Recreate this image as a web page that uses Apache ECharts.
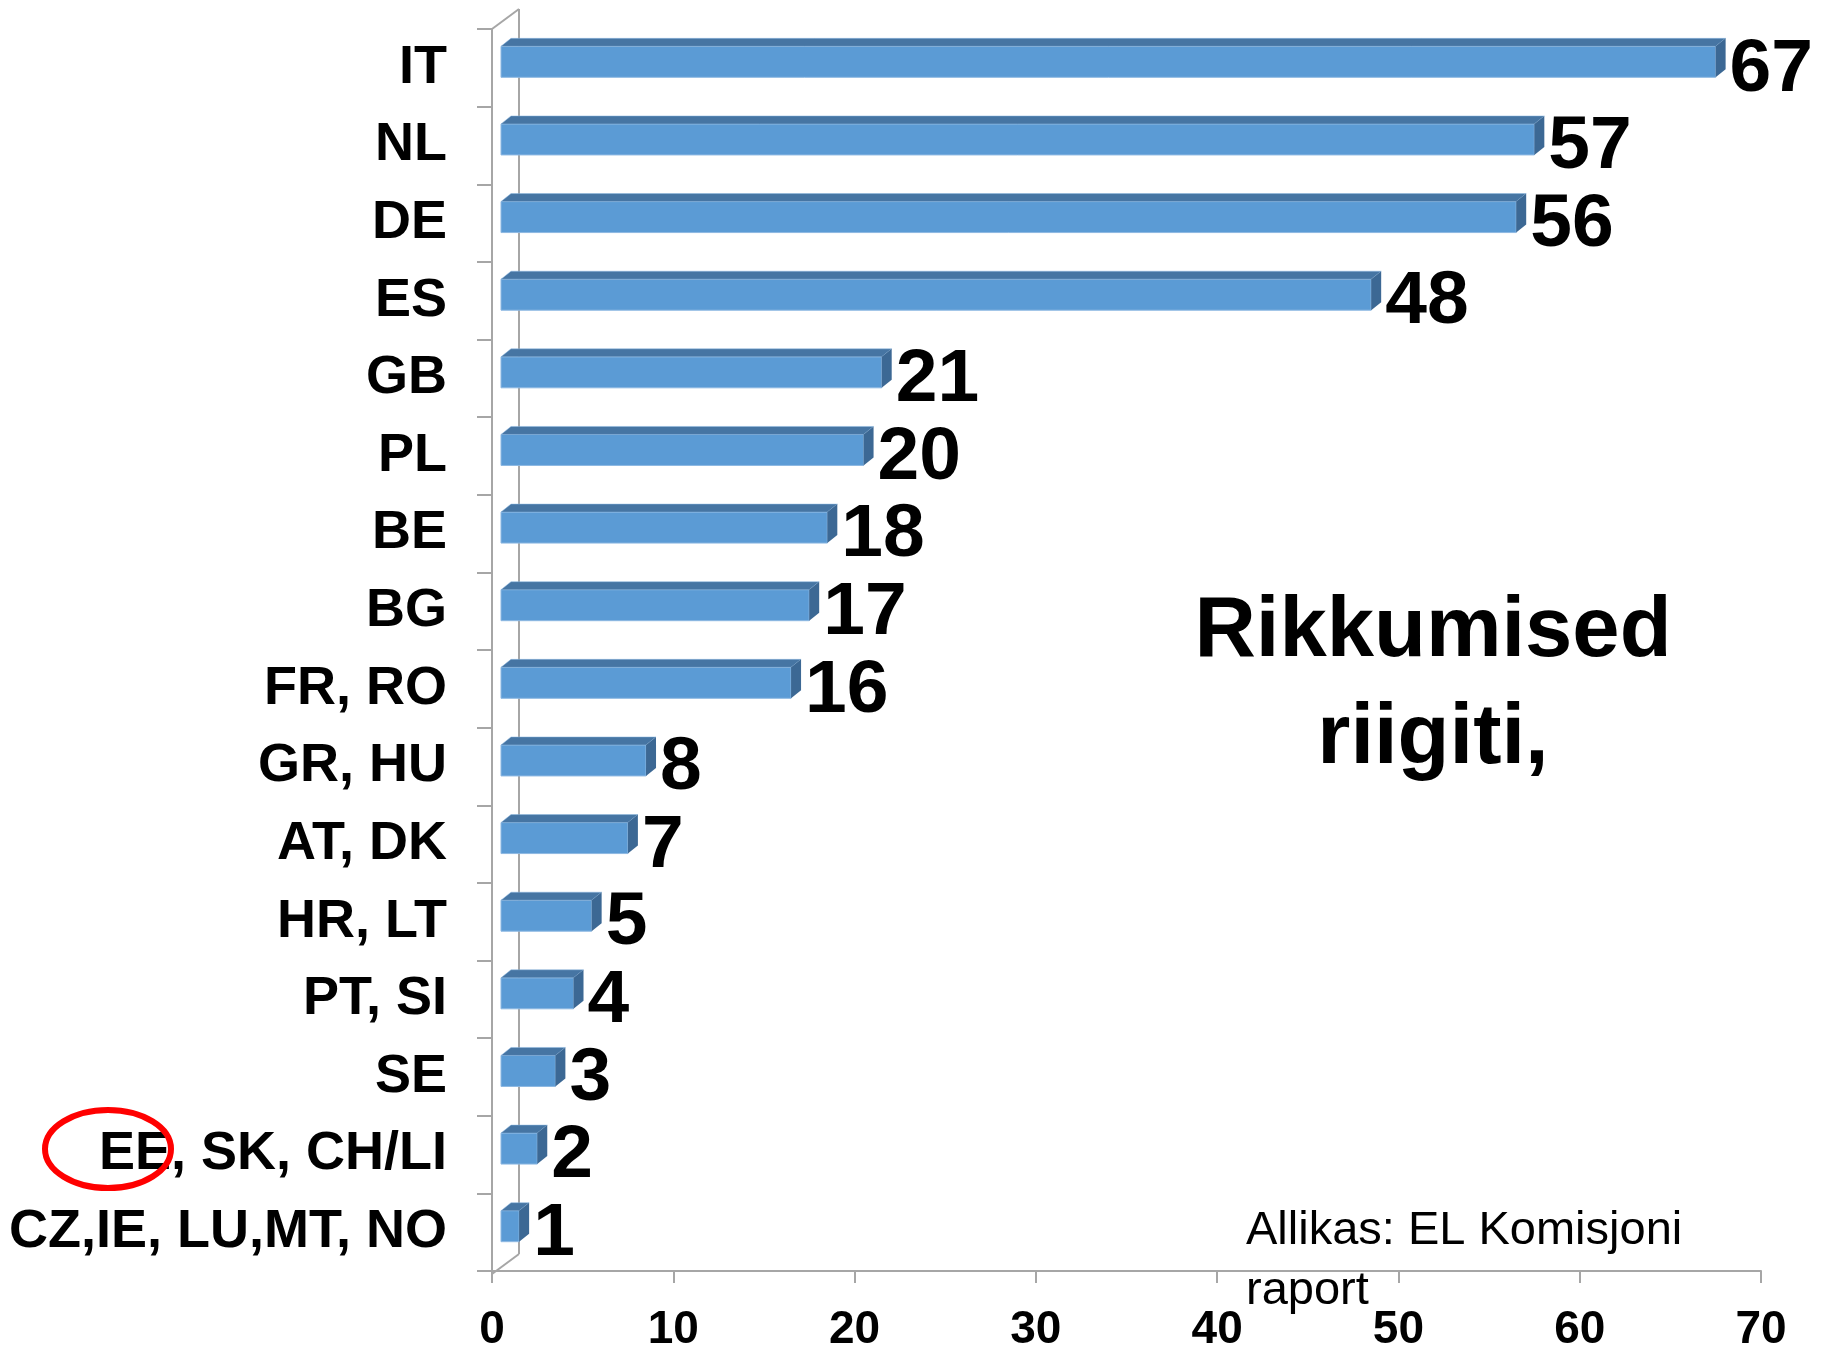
<!DOCTYPE html>
<html>
<head>
<meta charset="utf-8">
<script src="https://cdn.jsdelivr.net/npm/echarts@6/dist/echarts.min.js"></script>
<style>
  html, body { margin: 0; padding: 0; background: #fff; }
  #chart { width: 1829px; height: 1353px; }
</style>
</head>
<body>
<div id="chart"></div>
<script>
// riigid ja rikkumiste arv
var categories = ['IT', 'NL', 'DE', 'ES', 'GB', 'PL', 'BE', 'BG', 'FR, RO', 'GR, HU',
  'AT, DK', 'HR, LT', 'PT, SI', 'SE', 'EE, SK, CH/LI', 'CZ,IE, LU,MT, NO'];
var values = [67, 57, 56, 48, 21, 20, 18, 17, 16, 8, 7, 5, 4, 3, 2, 1];
var titleLines = ['Rikkumised', 'riigiti,'];
var sourceLines = ['Allikas: EL Komisjoni', 'raport'];

var FONT = '"Liberation Sans", Arial, sans-serif';

function renderBar(params, api) {
  var v = api.value(0);
  var idx = api.value(1);
  var start = api.coord([0, idx]);
  var end = api.coord([v, idx]);
  var x0 = start[0] + 9;
  var x1 = end[0] + 9;
  var yTop = start[1] - 6 - 15.5;
  var yBot = yTop + 31;
  var dx = 10, dy = 8;
  return {
    type: 'group',
    children: [
      { // esikülg
        type: 'rect',
        shape: { x: x0, y: yTop, width: x1 - x0, height: yBot - yTop },
        style: { fill: '#5B9BD5', stroke: '#8DB8E2', lineWidth: 1 }
      },
      { // pealmine külg
        type: 'polygon',
        shape: { points: [[x0, yTop], [x1, yTop], [x1 + dx, yTop - dy], [x0 + dx, yTop - dy]] },
        style: { fill: '#4675A3', stroke: '#8DB8E2', lineWidth: 0.5 }
      },
      { // parem külg
        type: 'polygon',
        shape: { points: [[x1, yTop], [x1 + dx, yTop - dy], [x1 + dx, yBot - dy], [x1, yBot]] },
        style: { fill: '#3C6894' }
      },
      {
        type: 'text',
        x: x1 + dx + 4,
        y: start[1] + 2,
        style: {
          text: String(v),
          fill: '#000',
          font: 'bold 75px ' + FONT,
          align: 'left',
          verticalAlign: 'middle'
        }
      }
    ]
  };
}

var chart = echarts.init(document.getElementById('chart'));

var gLeft = 492, gTop = 29, gRight = 68, gBottom = 79;
var backX = gLeft + 27, backDy = 20;
var floorY = 1353 - gBottom;

var option = {
  backgroundColor: '#fff',
  animation: false,
  grid: { left: gLeft, top: gTop, right: gRight, bottom: gBottom, containLabel: false },
  xAxis: {
    type: 'value',
    min: 0,
    max: 70,
    interval: 10,
    splitLine: { show: false },
    axisLine: { show: true, lineStyle: { color: '#A6A6A6', width: 2 } },
    axisTick: { show: true, length: 12, lineStyle: { color: '#A6A6A6', width: 2 } },
    axisLabel: {
      color: '#000',
      fontFamily: FONT,
      fontWeight: 'bold',
      fontSize: 46,
      margin: 36
    }
  },
  yAxis: {
    type: 'category',
    data: categories,
    inverse: true,
    axisLine: { show: true, lineStyle: { color: '#A6A6A6', width: 2 } },
    axisTick: { show: true, length: 15, lineStyle: { color: '#A6A6A6', width: 2 } },
    axisLabel: {
      color: '#000',
      fontFamily: FONT,
      fontWeight: 'bold',
      fontSize: 54,
      margin: 45
    }
  },
  series: [{
    type: 'custom',
    renderItem: renderBar,
    encode: { x: 0, y: 1 },
    data: values.map(function (v, i) { return [v, i]; }),
    z: 5
  }],
  graphic: [
    // 3D raami tagumine sein
    { type: 'line', shape: { x1: backX, y1: gTop - backDy, x2: backX, y2: floorY - backDy },
      style: { stroke: '#A6A6A6', lineWidth: 2 }, z: 1 },
    { type: 'line', shape: { x1: gLeft, y1: gTop, x2: backX, y2: gTop - backDy },
      style: { stroke: '#A6A6A6', lineWidth: 2 }, z: 1 },
    { type: 'line', shape: { x1: gLeft, y1: floorY, x2: backX, y2: floorY - backDy },
      style: { stroke: '#A6A6A6', lineWidth: 2 }, z: 1 },
    {
      type: 'text',
      x: 1433,
      y: 686,
      style: {
        text: titleLines.join('\n'),
        fill: '#000',
        font: 'bold 85px ' + FONT,
        lineHeight: 107,
        align: 'center',
        verticalAlign: 'middle'
      },
      z: 10
    },
    {
      type: 'text',
      x: 1246,
      y: 1261,
      style: {
        text: sourceLines.join('\n'),
        fill: '#000',
        font: '47px ' + FONT,
        lineHeight: 60,
        align: 'left',
        verticalAlign: 'middle'
      },
      z: 10
    },
    {
      type: 'ellipse',
      shape: { cx: 108, cy: 1149, rx: 63, ry: 39 },
      style: { fill: 'none', stroke: '#FF0000', lineWidth: 6 },
      z: 100
    }
  ]
};

chart.setOption(option);
</script>
</body>
</html>
